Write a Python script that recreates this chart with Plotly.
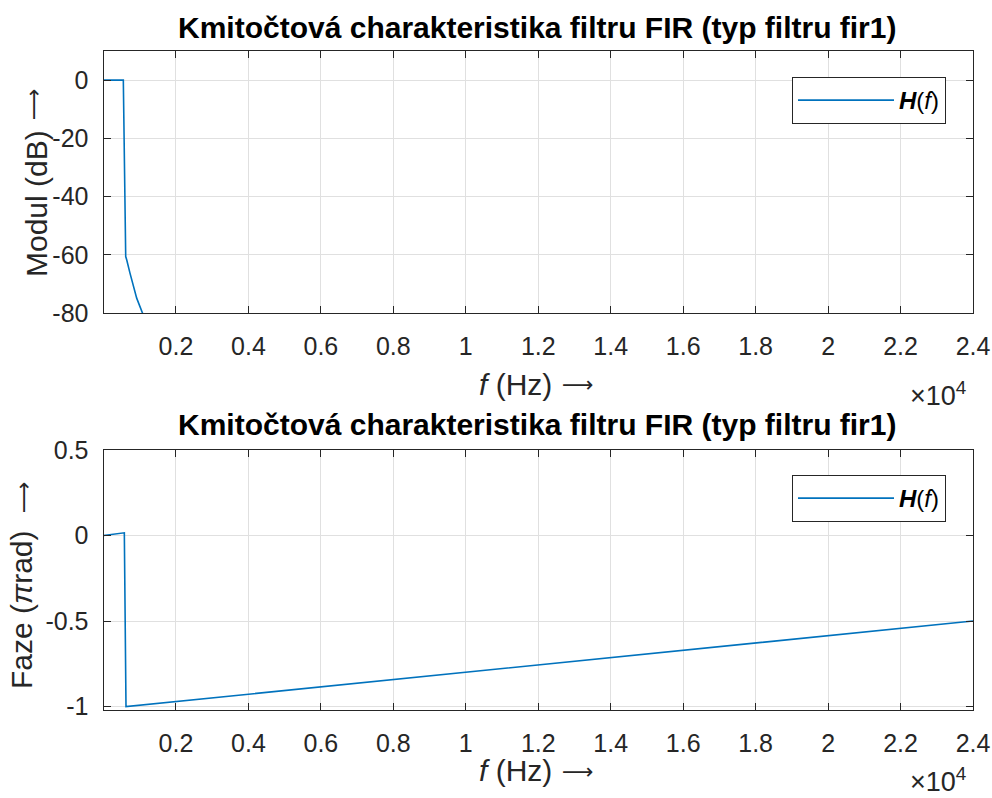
import plotly.graph_objects as go

# Data
mag_f = [0, 547, 613, 640, 731, 823, 916, 1007, 1082, 1200]
mag_db = [0, 0, -60.6, -61.7, -66.3, -70.9, -74.9, -77.8, -80.0, -84.0]
ph_f = [0, 575, 621, 24000]
ph_rad = [0.0, 0.016, -1.0, -0.5]

xtick_vals = [2000, 4000, 6000, 8000, 10000, 12000, 14000, 16000, 18000, 20000, 22000, 24000]
xtick_text = ["0.2", "0.4", "0.6", "0.8", "1", "1.2", "1.4", "1.6", "1.8", "2", "2.2", "2.4"]
y1_vals = [0, -20, -40, -60, -80]
y1_text = ["0", "-20", "-40", "-60", "-80"]
y2_vals = [0.5, 0, -0.5, -1]
y2_text = ["0.5", "0", "-0.5", "-1"]

title_text = "Kmitočtová charakteristika filtru FIR (typ filtru fir1)"
legend_name = "<b><i>H</i></b>(<i>f</i>)"

W, H = 992, 798
line_color = "#0072BD"
axis_color = "#262626"
grid_color = "#e0e0e0"
FONT = "Liberation Sans, Arial, Helvetica, sans-serif"
ARROW_FONT = "DejaVu Sans"
LONG_ARROW = "⟶"

def py(y):
    return 1 - y / H

def px(x):
    return x / W

fig = go.Figure()
fig.add_trace(go.Scatter(x=mag_f, y=mag_db, mode="lines", name=legend_name,
                         line=dict(color=line_color, width=1.6),
                         xaxis="x", yaxis="y", legend="legend"))
fig.add_trace(go.Scatter(x=ph_f, y=ph_rad, mode="lines", name=legend_name,
                         line=dict(color=line_color, width=1.6),
                         xaxis="x2", yaxis="y2", legend="legend2"))

TICK = 25
xdom = [px(103.5), px(973)]
common_x = dict(range=[0, 24000], tickvals=xtick_vals, ticktext=xtick_text,
                showgrid=True, gridcolor=grid_color, gridwidth=1,
                showline=True, linecolor=axis_color, linewidth=1, mirror="ticks",
                ticks="inside", ticklen=7, tickcolor=axis_color,
                tickfont=dict(size=TICK, color=axis_color, family=FONT),
                ticklabelstandoff=11, automargin=False,
                zeroline=False, domain=xdom)
common_y = dict(showgrid=True, gridcolor=grid_color, gridwidth=1,
                showline=True, linecolor=axis_color, linewidth=1, mirror="ticks",
                ticks="inside", ticklen=7, tickcolor=axis_color,
                tickfont=dict(size=TICK, color=axis_color, family=FONT),
                ticklabelstandoff=9, automargin=False,
                zeroline=False)

fig.update_layout(
    width=W, height=H,
    margin=dict(l=0, r=0, t=0, b=0, pad=0, autoexpand=False),
    paper_bgcolor="white", plot_bgcolor="white",
    font=dict(family=FONT, color=axis_color),
    xaxis=dict(common_x, anchor="y"),
    yaxis=dict(common_y, range=[-80, 10], tickvals=y1_vals, ticktext=y1_text,
               domain=[py(313), py(51)], anchor="x"),
    xaxis2=dict(common_x, anchor="y2"),
    yaxis2=dict(common_y, range=[-1.02, 0.5], tickvals=y2_vals, ticktext=y2_text,
                domain=[py(710), py(450)], anchor="x2"),
    legend=dict(x=px(946), y=py(77), xanchor="right", yanchor="top",
                bordercolor=axis_color, borderwidth=1, bgcolor="white",
                font=dict(size=24, family=FONT, color="black"), itemwidth=96),
    legend2=dict(x=px(946), y=py(475), xanchor="right", yanchor="top",
                 bordercolor=axis_color, borderwidth=1, bgcolor="white",
                 font=dict(size=24, family=FONT, color="black"), itemwidth=96),
    showlegend=True,
)

ann = []
def add(text, x, y, size, color=axis_color, family=FONT, angle=0):
    ann.append(dict(text=text, x=px(x), y=py(y), xref="paper", yref="paper",
                    showarrow=False, xanchor="center", yanchor="middle",
                    textangle=angle, font=dict(size=size, family=family, color=color)))

for ty in (27, 424):
    add("<b>" + title_text + "</b>", 537, ty, 30, color="black")
for ly in (384, 770):
    add("<i>f</i> (Hz)", 515, ly, 30)
    add(LONG_ARROW, 578, ly + 1, 22, family=ARROW_FONT)
    add("×10<sup>4</sup>", 938, ly + 10, 27)

add("Modul (dB)", 36, 204, 30, angle=-90)
add(LONG_ARROW, 33, 104, 22, family=ARROW_FONT, angle=-90)
add("Faze (<i>π</i>rad)", 21, 610, 30, angle=-90)
add(LONG_ARROW, 23, 497, 22, family=ARROW_FONT, angle=-90)
fig.update_layout(annotations=ann)

fig.write_html("out.html", config={"displayModeBar": False},
               post_script="document.body.style.margin='0';document.body.style.overflow='hidden';")
